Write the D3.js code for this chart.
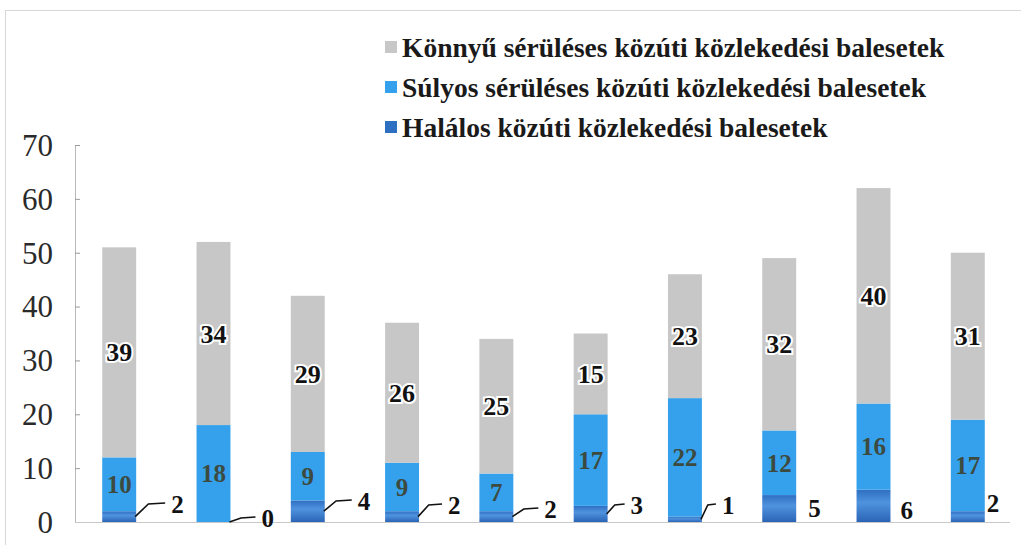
<!DOCTYPE html>
<html>
<head>
<meta charset="utf-8">
<script src="https://cdn.jsdelivr.net/npm/d3@7"></script>
<style>
  body { margin: 0; background: #fff; }
  svg { display: block; }
</style>
</head>
<body>
<div class="chart"></div>
<script>
// x labels are cut off in the source picture, so they are kept but not drawn
const categories = ["1", "2", "3", "4", "5", "6", "7", "8", "9", "10"];
const fatal = [2, 0, 4, 2, 2, 3, 1, 5, 6, 2];
const severe = [10, 18, 9, 9, 7, 17, 22, 12, 16, 17];
const light = [39, 34, 29, 26, 25, 15, 23, 32, 40, 31];
const yTicks = [0, 10, 20, 30, 40, 50, 60, 70];

const seriesNames = {
  light: "Könnyű sérüléses közúti közlekedési balesetek",
  severe: "Súlyos sérüléses közúti közlekedési balesetek",
  fatal: "Halálos közúti közlekedési balesetek"
};
const colors = { light: "#c7c7c7", severe: "#35a1ec", fatal: "#2f6fc2" };

// where the small "fatal" numbers sit next to each bar
const fatalLabelPos = [
  { dx: 35, dy: -18, leader: true },
  { dx: 31, dy: -4, leader: true },
  { dx: 33, dy: -21, leader: true },
  { dx: 29, dy: -17, leader: true },
  { dx: 31, dy: -13, leader: true },
  { dx: 23, dy: -17, leader: true },
  { dx: 20, dy: -17, leader: true },
  { dx: 12, dy: -14, leader: false },
  { dx: 10, dy: -12, leader: false },
  { dx: 2, dy: -19, leader: false }
];

const width = 1021, height = 545;
const serif = "'Liberation Serif', 'Times New Roman', 'DejaVu Serif', serif";
const rows = categories.map((c, i) => ({ cat: c, fatal: fatal[i], severe: severe[i], light: light[i] }));

const svg = d3.select(".chart").append("svg")
  .attr("width", width)
  .attr("height", height)
  .attr("font-family", serif);

// soft highlight on the dark blue segments
const grad = svg.append("defs").append("linearGradient")
  .attr("id", "fatalGrad")
  .attr("x1", 0).attr("y1", 0).attr("x2", 0).attr("y2", 1);
grad.append("stop").attr("offset", "0%").attr("stop-color", "#2f6fc2");
grad.append("stop").attr("offset", "40%").attr("stop-color", "#4f93de");
grad.append("stop").attr("offset", "100%").attr("stop-color", "#2a64b6");

// outer frame
svg.append("rect")
  .attr("x", 5.5).attr("y", 10.5)
  .attr("width", 1030).attr("height", 560)
  .attr("fill", "none")
  .attr("stroke", "#d8d8d8");

const x = d3.scaleBand().domain(categories).range([73, 1014]).paddingInner(0.64).paddingOuter(0.31);
const y = d3.scaleLinear().domain([0, 70]).range([522, 145]);

// y axis
const yAxis = svg.append("g")
  .attr("transform", "translate(75,0)")
  .call(d3.axisRight(y).tickValues(yTicks).tickSize(5).tickFormat(""));
yAxis.select(".domain").attr("stroke", "#b8b8b8");
yAxis.selectAll(".tick line").attr("stroke", "#9a9a9a");

svg.selectAll(".ylab")
  .data(yTicks)
  .enter()
  .append("text")
  .attr("class", "ylab")
  .attr("x", 53)
  .attr("y", d => y(d))
  .attr("dy", "0.35em")
  .attr("text-anchor", "end")
  .attr("font-size", 31)
  .attr("fill", "#2a2a2a")
  .text(d => d);

// x baseline
svg.append("line")
  .attr("x1", 75).attr("x2", 1010)
  .attr("y1", y(0) + 0.5).attr("y2", y(0) + 0.5)
  .attr("stroke", "#c8c8c8");

const stack = d3.stack().keys(["fatal", "severe", "light"]);
const layers = stack(rows);

svg.append("g")
  .selectAll("g")
  .data(layers)
  .enter()
  .append("g")
  .attr("fill", d => d.key === "fatal" ? "url(#fatalGrad)" : colors[d.key])
  .selectAll("rect")
  .data(d => d)
  .enter()
  .append("rect")
  .attr("x", d => x(d.data.cat))
  .attr("y", d => y(d[1]))
  .attr("width", x.bandwidth())
  .attr("height", d => y(d[0]) - y(d[1]));

// labels inside grey and blue segments
const lightLayer = layers[2], severeLayer = layers[1], fatalLayer = layers[0];

svg.selectAll(".lightlab")
  .data(lightLayer)
  .enter()
  .append("text")
  .attr("x", d => x(d.data.cat) + x.bandwidth() / 2)
  .attr("y", d => y((d[0] + d[1]) / 2))
  .attr("dy", "0.35em")
  .attr("text-anchor", "middle")
  .attr("font-size", 26)
  .attr("font-weight", "bold")
  .attr("fill", "#111")
  .attr("stroke", "#fff")
  .attr("stroke-width", 4)
  .attr("paint-order", "stroke")
  .text(d => d.data.light);

svg.selectAll(".sevlab")
  .data(severeLayer)
  .enter()
  .append("text")
  .attr("x", d => x(d.data.cat) + x.bandwidth() / 2)
  .attr("y", d => y((d[0] + d[1]) / 2))
  .attr("dy", "0.35em")
  .attr("text-anchor", "middle")
  .attr("font-size", 25)
  .attr("font-weight", "bold")
  .attr("fill", "#3d4a40")
  .text(d => d.data.severe);

// fatal numbers with leader lines
fatalLayer.forEach((d, i) => {
  const p = fatalLabelPos[i];
  const right = x(d.data.cat) + x.bandwidth();
  const ty = y(0) + p.dy;
  if (p.leader) {
    const sy = (y(d[0]) + y(d[1])) / 2;
    svg.append("polyline")
      .attr("points", [[right - 1, sy], [right + (p.dx - 6) * 0.42, ty], [right + p.dx - 6, ty - 1]].map(q => q.join(",")).join(" "))
      .attr("fill", "none")
      .attr("stroke", "#111")
      .attr("stroke-width", 1.6);
  }
  svg.append("text")
    .attr("x", right + p.dx)
    .attr("y", ty)
    .attr("dy", "0.35em")
    .attr("font-size", 25)
    .attr("font-weight", "bold")
    .attr("fill", "#111")
    .text(d.data.fatal);
});

// legend
const legend = svg.append("g")
  .selectAll("g")
  .data(["light", "severe", "fatal"])
  .enter()
  .append("g")
  .attr("transform", (d, i) => "translate(385," + (47 + i * 40) + ")");

legend.append("rect")
  .attr("x", 0).attr("y", -6)
  .attr("width", 12).attr("height", 12)
  .attr("fill", d => d === "fatal" ? "#2f6fc2" : colors[d]);

legend.append("text")
  .attr("x", 17)
  .attr("dy", "0.35em")
  .attr("font-size", 27.5)
  .attr("font-weight", "bold")
  .attr("fill", "#1a1a1a")
  .text(d => seriesNames[d]);
</script>
</body>
</html>
